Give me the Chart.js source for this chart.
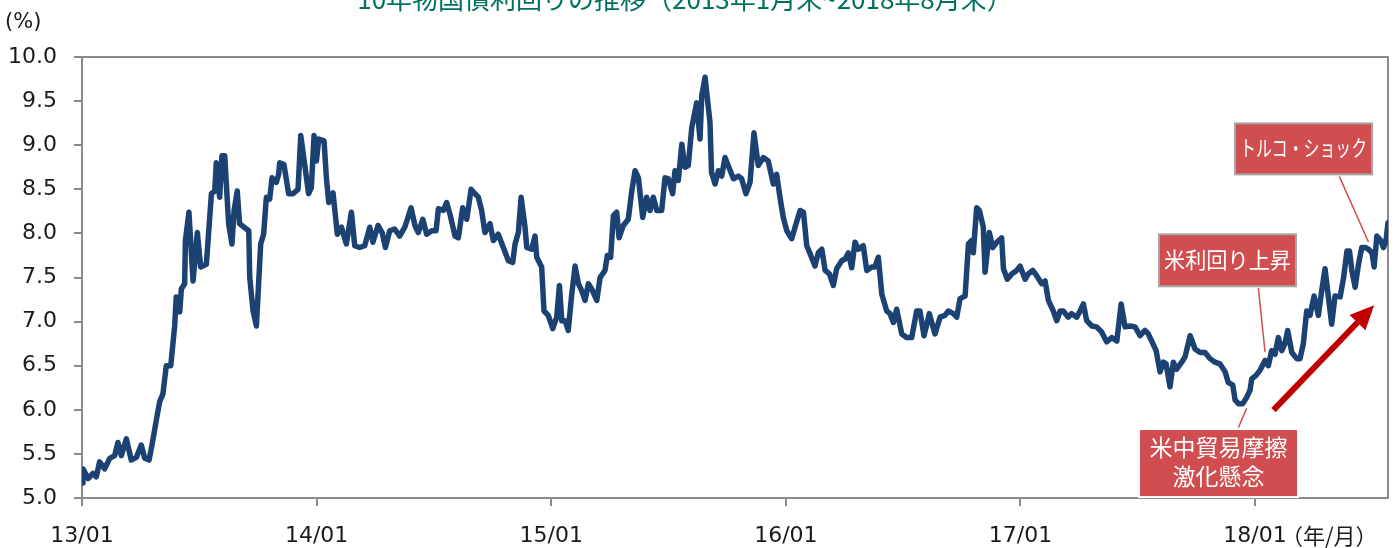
<!DOCTYPE html>
<html>
<head>
<meta charset="utf-8">
<script src="https://cdn.jsdelivr.net/npm/chart.js@4"></script>
<style>
  html, body { margin: 0; padding: 0; background: #fff; }
  #wrap { width: 1396px; height: 548px; position: relative; }
</style>
</head>
<body>
<div id="wrap"><canvas id="c" width="1396" height="548"></canvas></div>
<script>
// 10-year government bond yield, Jan 2013 – Aug 2018
// x: months elapsed since end of Jan 2013, y: yield (%)
const titleText = '10年物国債利回りの推移（2013年1月末~2018年8月末）';
const unitLabel = '(%)';
const xUnitLabel = '（年/月）';
const tickLabels = ['13/01', '14/01', '15/01', '16/01', '17/01', '18/01'];
const yTicks = [5.0, 5.5, 6.0, 6.5, 7.0, 7.5, 8.0, 8.5, 9.0, 9.5, 10.0];

const months = [
  0, 0.05, 0.31, 0.56, 0.73, 0.90, 1.16, 1.42, 1.67, 1.84, 2.01, 2.27, 2.52, 2.78, 3.03, 3.21, 3.43, 3.58, 3.80, 3.97,
  4.14, 4.31, 4.54, 4.74, 4.82, 5.00, 5.08, 5.25, 5.29, 5.47, 5.68, 5.90, 6.07, 6.36, 6.62, 6.79, 6.87, 7.04, 7.16, 7.30,
  7.50, 7.67, 7.78, 7.94, 8.06, 8.29, 8.53, 8.58, 8.75, 8.92, 9.14, 9.29, 9.43, 9.60, 9.72, 9.94, 10.06, 10.11, 10.33, 10.57,
  10.79, 11.05, 11.19, 11.39, 11.59, 11.73, 11.87, 11.99, 12.11, 12.38, 12.50, 12.62, 12.84, 13.06, 13.27, 13.52, 13.78, 13.95, 14.20, 14.46,
  14.72, 14.88, 15.14, 15.35, 15.52, 15.74, 15.99, 16.25, 16.51, 16.83, 17.03, 17.20, 17.43, 17.63, 17.89, 18.11, 18.23, 18.48, 18.65, 18.82,
  19.08, 19.25, 19.47, 19.68, 19.90, 20.10, 20.27, 20.44, 20.61, 20.87, 21.04, 21.29, 21.55, 21.81, 22.03, 22.15, 22.32, 22.46, 22.66, 22.75,
  23.00, 23.17, 23.26, 23.51, 23.63, 23.85, 24.08, 24.28, 24.42, 24.54, 24.71, 24.87, 25.05, 25.22, 25.39, 25.56, 25.73, 25.90, 26.07, 26.33,
  26.50, 26.75, 26.87, 27.04, 27.18, 27.35, 27.47, 27.69, 27.94, 28.12, 28.29, 28.46, 28.68, 28.88, 29.05, 29.22, 29.40, 29.65, 29.82, 29.99,
  30.21, 30.33, 30.50, 30.68, 30.84, 31.01, 31.19, 31.44, 31.61, 31.70, 31.87, 32.12, 32.20, 32.38, 32.55, 32.72, 32.89, 33.32, 33.57, 33.74,
  33.96, 34.17, 34.37, 34.59, 34.85, 35.10, 35.36, 35.53, 35.70, 35.87, 36.05, 36.30, 36.47, 36.73, 36.90, 37.07, 37.24, 37.49, 37.66, 37.84,
  38.01, 38.23, 38.43, 38.60, 38.86, 39.03, 39.20, 39.37, 39.54, 39.71, 39.96, 40.14, 40.39, 40.56, 40.73, 40.91, 41.16, 41.33, 41.50, 41.67,
  41.93, 42.18, 42.44, 42.69, 42.86, 43.07, 43.34, 43.63, 43.89, 44.14, 44.31, 44.57, 44.74, 44.91, 45.17, 45.34, 45.51, 45.59, 45.76, 45.90,
  46.10, 46.19, 46.41, 46.58, 46.79, 47.04, 47.13, 47.33, 47.55, 47.81, 47.98, 48.24, 48.40, 48.63, 48.83, 49.09, 49.26, 49.43, 49.68, 49.86,
  50.03, 50.19, 50.45, 50.62, 50.88, 51.05, 51.22, 51.39, 51.65, 51.90, 52.16, 52.41, 52.67, 52.93, 53.15, 53.35, 53.61, 53.86, 54.12, 54.37,
  54.54, 54.71, 54.94, 55.14, 55.31, 55.45, 55.65, 55.82, 55.99, 56.25, 56.42, 56.68, 56.93, 57.19, 57.44, 57.70, 57.95, 58.21, 58.47, 58.63,
  58.86, 58.98, 59.15, 59.37, 59.57, 59.74, 59.83, 60.05, 60.26, 60.51, 60.68, 60.85, 61.02, 61.19, 61.37, 61.53, 61.67, 61.88, 62.13, 62.30,
  62.47, 62.64, 62.81, 63.02, 63.24, 63.41, 63.58, 63.75, 63.92, 64.09, 64.35, 64.53, 64.70, 64.83, 64.95, 65.12, 65.29, 65.46, 65.63, 65.80,
  65.98, 66.09, 66.23, 66.43, 66.57, 66.70, 66.80
];

const yields = [
  5.17, 5.33, 5.22, 5.28, 5.24, 5.41, 5.33, 5.45, 5.48, 5.63, 5.48, 5.67, 5.43, 5.46, 5.60, 5.45, 5.43, 5.60, 5.88, 6.09,
  6.18, 6.50, 6.50, 6.95, 7.28, 7.11, 7.37, 7.43, 7.92, 8.24, 7.46, 8.01, 7.62, 7.65, 8.45, 8.48, 8.80, 8.41, 8.88, 8.88,
  8.11, 7.88, 8.26, 8.48, 8.11, 8.07, 8.03, 7.50, 7.12, 6.95, 7.88, 7.99, 8.41, 8.39, 8.63, 8.58, 8.67, 8.80, 8.78, 8.45,
  8.45, 8.50, 9.11, 8.78, 8.45, 8.52, 9.11, 8.82, 9.07, 9.05, 8.63, 8.35, 8.46, 7.99, 8.07, 7.88, 8.24, 7.86, 7.84, 7.86,
  8.07, 7.90, 8.09, 8.01, 7.84, 8.03, 8.05, 7.97, 8.07, 8.29, 8.09, 8.01, 8.16, 7.99, 8.03, 8.03, 8.28, 8.26, 8.35, 8.22,
  7.97, 7.95, 8.29, 8.16, 8.50, 8.45, 8.41, 8.26, 8.01, 8.11, 7.92, 7.99, 7.84, 7.69, 7.67, 7.88, 8.01, 8.41, 8.07, 7.84,
  7.82, 7.97, 7.73, 7.62, 7.12, 7.07, 6.92, 7.05, 7.41, 7.01, 7.01, 6.90, 7.31, 7.63, 7.43, 7.35, 7.24, 7.43, 7.37, 7.24,
  7.50, 7.58, 7.75, 7.73, 8.20, 8.24, 7.95, 8.09, 8.16, 8.48, 8.71, 8.63, 8.18, 8.41, 8.26, 8.41, 8.26, 8.26, 8.63, 8.62,
  8.45, 8.71, 8.60, 9.01, 8.75, 8.77, 9.20, 9.48, 9.07, 9.56, 9.77, 9.26, 8.69, 8.56, 8.71, 8.65, 8.86, 8.62, 8.65, 8.62,
  8.45, 8.58, 9.14, 8.77, 8.86, 8.82, 8.56, 8.67, 8.41, 8.18, 8.03, 7.94, 8.07, 8.26, 8.24, 7.86, 7.77, 7.63, 7.78, 7.82,
  7.58, 7.54, 7.41, 7.60, 7.69, 7.71, 7.78, 7.61, 7.90, 7.82, 7.86, 7.58, 7.62, 7.62, 7.73, 7.31, 7.12, 7.09, 6.99, 7.14,
  6.86, 6.82, 6.82, 7.12, 7.12, 6.84, 7.09, 6.86, 7.05, 7.07, 7.12, 7.09, 7.05, 7.26, 7.29, 7.88, 7.92, 7.78, 8.29, 8.26,
  8.07, 7.56, 8.01, 7.84, 7.90, 7.95, 7.60, 7.48, 7.54, 7.58, 7.63, 7.48, 7.54, 7.58, 7.52, 7.43, 7.46, 7.24, 7.12, 7.01,
  7.12, 7.12, 7.05, 7.09, 7.05, 7.12, 7.20, 7.01, 6.95, 6.94, 6.88, 6.77, 6.82, 6.78, 7.20, 6.94, 6.95, 6.94, 6.84, 6.90,
  6.86, 6.78, 6.67, 6.43, 6.54, 6.52, 6.26, 6.54, 6.46, 6.54, 6.60, 6.84, 6.69, 6.65, 6.65, 6.58, 6.54, 6.52, 6.43, 6.31,
  6.28, 6.11, 6.07, 6.07, 6.14, 6.22, 6.35, 6.39, 6.45, 6.56, 6.50, 6.67, 6.63, 6.82, 6.67, 6.75, 6.90, 6.65, 6.58, 6.58,
  6.75, 7.12, 7.07, 7.29, 7.07, 7.35, 7.60, 7.28, 6.97, 7.29, 7.28, 7.50, 7.80, 7.80, 7.58, 7.39, 7.65, 7.84, 7.84, 7.82,
  7.78, 7.62, 7.97, 7.92, 7.84, 7.92, 8.12
];

// Callout boxes and arrow, placed in data coordinates (month, yield)
const callouts = [
  { lines: ['トルコ・ショック'], cx: 62.48, cy: 8.958, w: 137, h: 51, font: 22, border: '#a6a6a6',
    from: [64.31, 8.647], to: [65.80, 7.903] },
  { lines: ['米利回り上昇'], cx: 58.59, cy: 7.695, w: 137, h: 52, font: 22, border: '#a6a6a6',
    from: [60.17, 7.38], to: [60.51, 6.657] },
  { lines: ['米中貿易摩擦', '激化懸念'], cx: 58.13, cy: 5.396, w: 159, h: 68, font: 23, border: '#ffffff',
    from: [59.15, 5.80], to: [59.57, 6.016] }
];
const trendArrow = { from: [60.94, 5.997], to: [66.09, 7.186] };

const LINE_COLOR = '#1c4274';
const AXIS_COLOR = '#8a8a8a';
const BOX_FILL = '#d04e50';
const ARROW_COLOR = '#c00000';
const TEXT_COLOR = '#1a1a1a';
const NUM_FONT = '"DejaVu Sans", Verdana, sans-serif';
const JP_FONT = '"Noto Sans CJK JP", "Noto Sans", sans-serif';

const decor = {
  id: 'decor',
  beforeDatasetsDraw(chart) {
    const { ctx, chartArea: a } = chart;
    ctx.save();
    // frame around the plot area
    ctx.strokeStyle = AXIS_COLOR;
    ctx.lineWidth = 2;
    ctx.strokeRect(a.left, a.top, a.right - a.left, a.bottom - a.top);
    ctx.restore();
  },
  afterDraw(chart) {
    const { ctx, scales: { x, y } } = chart;
    ctx.save();
    // title (runs off the top edge of the canvas)
    ctx.fillStyle = '#00705f';
    ctx.font = '26px ' + JP_FONT;
    ctx.textAlign = 'center';
    ctx.textBaseline = 'alphabetic';
    ctx.fillText(titleText, 685, 9);
    // unit
    ctx.fillStyle = TEXT_COLOR;
    ctx.font = '21px ' + NUM_FONT;
    ctx.textAlign = 'left';
    ctx.textBaseline = 'middle';
    ctx.fillText(unitLabel, 5, 23);
    // x unit after last tick label
    ctx.font = '22px ' + JP_FONT;
    ctx.fillText(xUnitLabel, 1281, 536);

    // connectors
    ctx.strokeStyle = BOX_FILL;
    ctx.lineWidth = 1.5;
    callouts.forEach(c => {
      ctx.beginPath();
      ctx.moveTo(x.getPixelForValue(c.from[0]), y.getPixelForValue(c.from[1]));
      ctx.lineTo(x.getPixelForValue(c.to[0]), y.getPixelForValue(c.to[1]));
      ctx.stroke();
    });
    // boxes
    callouts.forEach(c => {
      const px = x.getPixelForValue(c.cx), py = y.getPixelForValue(c.cy);
      const l = px - c.w / 2, t = py - c.h / 2;
      ctx.fillStyle = BOX_FILL;
      ctx.fillRect(l, t, c.w, c.h);
      ctx.strokeStyle = c.border;
      ctx.lineWidth = 2;
      ctx.strokeRect(l, t, c.w, c.h);
      ctx.fillStyle = '#ffffff';
      ctx.font = c.font + 'px ' + JP_FONT;
      ctx.textAlign = 'center';
      ctx.textBaseline = 'middle';
      const lh = c.font * 1.25;
      const y0 = py - (c.lines.length - 1) * lh / 2;
      c.lines.forEach((s, i) => ctx.fillText(s, px, y0 + i * lh - 1, c.w - 10));
    });
    // trend arrow
    const x1 = x.getPixelForValue(trendArrow.from[0]), y1 = y.getPixelForValue(trendArrow.from[1]);
    const x2 = x.getPixelForValue(trendArrow.to[0]), y2 = y.getPixelForValue(trendArrow.to[1]);
    const ang = Math.atan2(y2 - y1, x2 - x1);
    const headLen = 24, headHalf = 11;
    const bx = x2 - headLen * Math.cos(ang), by = y2 - headLen * Math.sin(ang);
    ctx.strokeStyle = ARROW_COLOR;
    ctx.lineWidth = 6;
    ctx.lineCap = 'butt';
    ctx.beginPath();
    ctx.moveTo(x1, y1);
    ctx.lineTo(bx, by);
    ctx.stroke();
    ctx.fillStyle = ARROW_COLOR;
    ctx.beginPath();
    ctx.moveTo(x2, y2);
    ctx.lineTo(bx + headHalf * Math.sin(ang), by - headHalf * Math.cos(ang));
    ctx.lineTo(bx - headHalf * Math.sin(ang), by + headHalf * Math.cos(ang));
    ctx.closePath();
    ctx.fill();
    ctx.restore();
  }
};

new Chart(document.getElementById('c'), {
  type: 'line',
  data: {
    datasets: [{
      data: months.map((m, i) => ({ x: m, y: yields[i] })),
      borderColor: LINE_COLOR,
      borderWidth: 5.5,
      borderJoinStyle: 'round',
      borderCapStyle: 'round',
      pointRadius: 0,
      tension: 0,
      fill: false
    }]
  },
  options: {
    responsive: false,
    animation: false,
    devicePixelRatio: 1,
    layout: { padding: { top: 57, right: 8, bottom: 0, left: 0 } },
    plugins: { legend: { display: false }, tooltip: { enabled: false }, title: { display: false } },
    scales: {
      x: {
        type: 'linear',
        min: 0,
        max: 66.8,
        afterFit(s) { s.height = 50; },
        afterBuildTicks(s) { s.ticks = tickLabels.map((_, i) => ({ value: i * 12 })); },
        ticks: {
          autoSkip: false,
          maxRotation: 0,
          padding: 17,
          color: TEXT_COLOR,
          font: { family: NUM_FONT, size: 22 },
          callback: v => tickLabels[Math.round(v / 12)]
        },
        grid: { drawOnChartArea: false, drawTicks: true, tickLength: 8, color: AXIS_COLOR, lineWidth: 2 },
        border: { display: true, color: AXIS_COLOR, width: 2 }
      },
      y: {
        type: 'linear',
        min: 5,
        max: 10,
        afterFit(s) { s.width = 82; },
        afterBuildTicks(s) { s.ticks = yTicks.map(v => ({ value: v })); },
        ticks: {
          padding: 17,
          color: TEXT_COLOR,
          font: { family: NUM_FONT, size: 22 },
          callback: v => v.toFixed(1)
        },
        grid: { drawOnChartArea: false, drawTicks: true, tickLength: 8, color: AXIS_COLOR, lineWidth: 2 },
        border: { display: true, color: AXIS_COLOR, width: 2 }
      }
    }
  },
  plugins: [decor]
});
</script>
</body>
</html>
